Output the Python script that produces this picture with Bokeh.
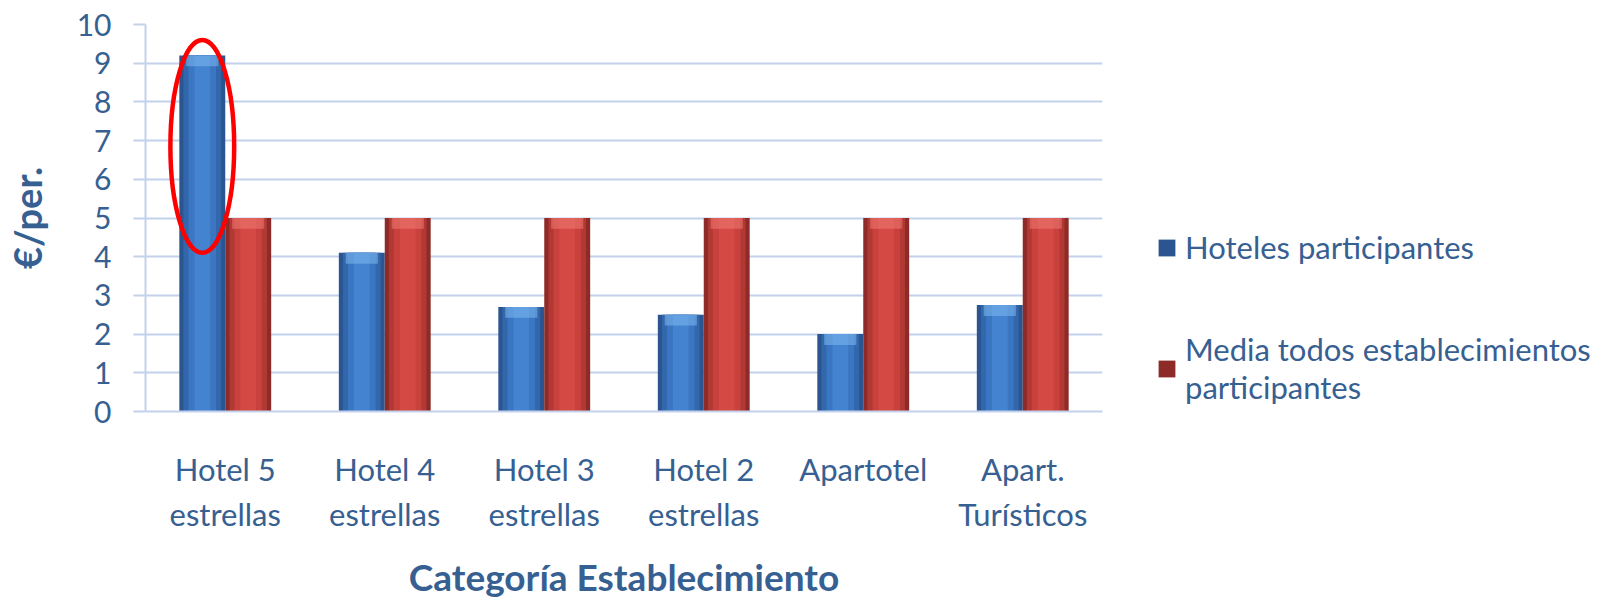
from bokeh.plotting import figure
from bokeh.models import ColumnDataSource, FactorRange, Range1d, Legend, LegendItem, FixedTicker
from bokeh.transform import dodge
from bokeh.embed import file_html
from bokeh.resources import INLINE

categories = ["Hotel 5\nestrellas", "Hotel 4\nestrellas", "Hotel 3\nestrellas",
              "Hotel 2\nestrellas", "Apartotel", "Apart.\nTurísticos"]
hoteles_participantes = [9.2, 4.1, 2.7, 2.5, 2.0, 2.75]
media_todos = [5, 5, 5, 5, 5, 5]
series_names = ["Hoteles participantes", "Media todos establecimientos\nparticipantes"]
y_ticks = [0, 1, 2, 3, 4, 5, 6, 7, 8, 9, 10]
y_title = "€/per."
x_title = "Categoría Establecimiento"
highlight_category = ["Hotel 5\nestrellas"]
highlight_center = [6.85]
highlight_height = [5.5]

TEXT = "#376092"
GRID = "#C3D1EC"
FONT = "Lato"
CAP = 0.28  # depth of the bevel highlight at the top of each bar (axis units)

src = ColumnDataSource(dict(cat=categories, a=hoteles_participantes, b=media_todos,
                            a_cap=[v - CAP for v in hoteles_participantes],
                            b_cap=[v - CAP for v in media_todos]))

p = figure(x_range=FactorRange(*categories), y_range=Range1d(0, 10),
           width=1608, height=600, output_backend="svg", toolbar_location=None,
           min_border_left=145, min_border_right=506, min_border_top=24, min_border_bottom=189)
p.frame_width = 957
p.frame_height = 387
p.outline_line_color = None
p.background_fill_color = "white"
p.x_range.range_padding = 0

BW = 0.288
OFF = 0.144
blue_layers = ["#2A5590", "#3367AC", "#3B76C2", "#4483D0"]
red_layers = ["#8C2B27", "#B23834", "#C8413C", "#D54944"]
fracs = [1.0, 0.82, 0.6, 0.34]

blue_r = None
red_r = None
for i, (f, cb, cr) in enumerate(zip(fracs, blue_layers, red_layers)):
    rb = p.vbar(x=dodge("cat", -OFF, range=p.x_range), top="a", width=BW * f, source=src,
                fill_color=cb, line_color=None)
    rr = p.vbar(x=dodge("cat", OFF, range=p.x_range), top="b", width=BW * f, source=src,
                fill_color=cr, line_color=None)
    if i == 0:
        blue_r, red_r = rb, rr

# bevel highlight on the bar tops
p.vbar(x=dodge("cat", -OFF, range=p.x_range), top="a", bottom="a_cap", width=BW * 0.7,
       source=src, fill_color="#7DB9F0", fill_alpha=0.55, line_color=None)
p.vbar(x=dodge("cat", OFF, range=p.x_range), top="b", bottom="b_cap", width=BW * 0.7,
       source=src, fill_color="#F07A74", fill_alpha=0.55, line_color=None)

hl = ColumnDataSource(dict(cat=highlight_category, y=highlight_center, h=highlight_height))
p.ellipse(x=dodge("cat", -OFF, range=p.x_range), y="y", width=0.40, height="h", source=hl,
          fill_color=None, line_color="#FF0000", line_width=4.5)

# grid
p.xgrid.grid_line_color = None
p.ygrid.grid_line_color = GRID
p.ygrid.grid_line_width = 2
p.ygrid.ticker = FixedTicker(ticks=y_ticks)

# y axis
p.yaxis.ticker = FixedTicker(ticks=y_ticks)
p.yaxis.axis_line_color = GRID
p.yaxis.axis_line_width = 2
p.yaxis.major_tick_line_color = GRID
p.yaxis.major_tick_line_width = 2
p.yaxis.major_tick_out = 12
p.yaxis.major_tick_in = 0
p.yaxis.minor_tick_line_color = None
p.yaxis.major_label_text_font = FONT
p.yaxis.major_label_text_font_size = "30px"
p.yaxis.major_label_text_color = TEXT
p.yaxis.major_label_standoff = 22
p.yaxis.axis_label = y_title
p.yaxis.axis_label_text_font = FONT
p.yaxis.axis_label_text_font_size = "38px"
p.yaxis.axis_label_text_font_style = "bold"
p.yaxis.axis_label_text_color = TEXT
p.yaxis.axis_label_standoff = 24

# x axis
p.xaxis.axis_line_color = GRID
p.xaxis.axis_line_width = 2
p.xaxis.major_tick_line_color = None
p.xaxis.major_tick_out = 0
p.xaxis.major_tick_in = 0
p.xaxis.major_label_text_font = FONT
p.xaxis.major_label_text_font_size = "31px"
p.xaxis.major_label_text_color = TEXT
p.xaxis.major_label_standoff = 38
p.xaxis.axis_label = x_title
p.xaxis.axis_label_text_font = FONT
p.xaxis.axis_label_text_font_size = "37px"
p.xaxis.axis_label_text_font_style = "bold"
p.xaxis.axis_label_text_color = TEXT
p.xaxis.axis_label_standoff = 18

legend = Legend(items=[LegendItem(label=series_names[0], renderers=[blue_r]),
                       LegendItem(label=series_names[1], renderers=[red_r])],
                location=(54, 5), padding=0, margin=0, spacing=64,
                glyph_width=21, glyph_height=21, label_standoff=8,
                label_text_font=FONT, label_text_font_size="31px", label_text_color=TEXT,
                border_line_color=None, background_fill_alpha=0)
p.add_layout(legend, "right")

open("out.html", "w").write(file_html(p, INLINE))
